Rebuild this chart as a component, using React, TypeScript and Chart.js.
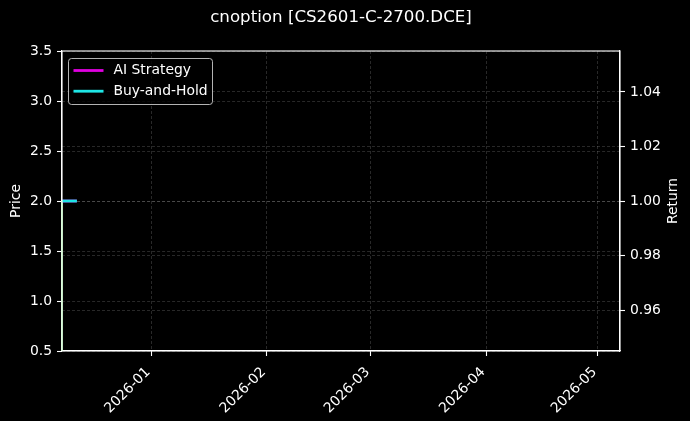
import { useEffect, useRef } from "react";
import { Chart, registerables } from "chart.js";

Chart.register(...registerables);

const TITLE = "cnoption [CS2601-C-2700.DCE]";

// x axis (dates)
const X_MIN = "2025-12-08";
const X_MAX = "2026-05-07";
const X_TICKS = ["2026-01-01", "2026-02-01", "2026-03-01", "2026-04-01", "2026-05-01"];
const X_TICK_LABELS = ["2026-01", "2026-02", "2026-03", "2026-04", "2026-05"];

// left axis: price
const PRICE_MIN = 0.5;
const PRICE_MAX = 3.5;
const PRICE_TICKS = [0.5, 1.0, 1.5, 2.0, 2.5, 3.0, 3.5];
const PRICE_DATES = ["2025-12-08T00:00", "2025-12-08T01:00"];
const PRICE_VALUES = [2.0, 0.0];

// right axis: return
const RETURN_MIN = 0.945;
const RETURN_MAX = 1.055;
const RETURN_TICKS = [0.96, 0.98, 1.0, 1.02, 1.04];
const RETURN_DATES = ["2025-12-08", "2025-12-09", "2025-12-10", "2025-12-11", "2025-12-12"];
const AI_RETURNS = [1.0, 1.0, 1.0, 1.0, 1.0];
const BH_RETURNS = [1.0, 1.0, 1.0, 1.0, 1.0];

const LEGEND_ORDER = ["AI Strategy", "Buy-and-Hold"];

const FONT = "DejaVu Sans";
const GRID = "rgba(255,255,255,0.2)";
const AI_COLOR = "#e000e0";
const BH_COLOR = "#1ee6e6";
const PRICE_COLOR = "#90ee90";

const t = (s: string) => Date.parse(s.length === 10 ? s + "T00:00:00Z" : s + ":00Z");

const framePlugin = {
  id: "frame",
  afterDatasetsDraw(chart: any) {
    const { ctx, chartArea: a } = chart;
    ctx.save();
    ctx.strokeStyle = "#ffffff";
    ctx.lineWidth = 1.1;
    ctx.strokeRect(a.left, a.top, a.right - a.left, a.bottom - a.top);

    // right axis label, reads bottom-to-top like the left one
    ctx.font = `13.9px "${FONT}"`;
    ctx.fillStyle = "#ffffff";
    ctx.textAlign = "center";
    ctx.textBaseline = "middle";
    ctx.translate(673, (a.top + a.bottom) / 2);
    ctx.rotate(-Math.PI / 2);
    ctx.fillText("Return", 0, 0);
    ctx.restore();

    // legend
    const items = LEGEND_ORDER.map((l) => chart.data.datasets.find((d: any) => d.label === l));
    ctx.save();
    const x0 = a.left + 6.5;
    const y0 = a.top + 7.5;
    const w = 144;
    const h = 46;
    ctx.beginPath();
    ctx.roundRect(x0, y0, w, h, 3);
    ctx.fillStyle = "rgba(0,0,0,0.8)";
    ctx.fill();
    ctx.strokeStyle = "rgba(210,210,210,0.85)";
    ctx.lineWidth = 1;
    ctx.stroke();
    ctx.font = `13.9px "${FONT}"`;
    ctx.textAlign = "left";
    ctx.textBaseline = "middle";
    items.forEach((d: any, i: number) => {
      const y = y0 + 12 + i * 20.7;
      ctx.strokeStyle = d.borderColor;
      ctx.lineWidth = 2.8;
      ctx.beginPath();
      ctx.moveTo(x0 + 5, y);
      ctx.lineTo(x0 + 35, y);
      ctx.stroke();
      ctx.fillStyle = "#ffffff";
      ctx.fillText(d.label, x0 + 45, y);
    });
    ctx.restore();
  },
};

export default function App() {
  const canvasRef = useRef<HTMLCanvasElement>(null);

  useEffect(() => {
    document.body.style.margin = "0";
    document.body.style.background = "#000";
    if (!canvasRef.current) return;

    Chart.defaults.font.family = FONT;
    Chart.defaults.color = "#ffffff";

    const gridOpts = { color: GRID, lineWidth: 0.8, tickColor: "#ffffff", tickLength: 5, tickWidth: 1.1 };
    const borderOpts = { color: "#ffffff", width: 1.1, dash: [3, 2] };

    const chart = new Chart(canvasRef.current, {
      type: "line",
      data: {
        datasets: [
          {
            label: "Buy-and-Hold",
            data: RETURN_DATES.map((d, i) => ({ x: t(d), y: BH_RETURNS[i] })),
            yAxisID: "y1",
            borderColor: BH_COLOR,
            borderWidth: 2.8,
            pointRadius: 0,
            order: 0,
          },
          {
            label: "AI Strategy",
            data: RETURN_DATES.map((d, i) => ({ x: t(d), y: AI_RETURNS[i] })),
            yAxisID: "y1",
            borderColor: AI_COLOR,
            borderWidth: 2.8,
            pointRadius: 0,
            order: 1,
          },
          {
            label: "Price",
            data: PRICE_DATES.map((d, i) => ({ x: t(d), y: PRICE_VALUES[i] })),
            yAxisID: "y",
            borderColor: PRICE_COLOR,
            borderWidth: 1.4,
            pointRadius: 0,
            order: 2,
            clip: { left: 2, top: 0, right: 0, bottom: 0 },
          },
        ] as any,
      },
      options: {
        animation: false,
        responsive: false,
        layout: { padding: 0 },
        plugins: {
          legend: { display: false },
          tooltip: { enabled: false },
          title: {
            display: true,
            text: TITLE,
            color: "#ffffff",
            fullSize: false,
            font: { size: 16.67, weight: "normal" },
            padding: { top: 8, bottom: 23 },
          },
        },
        scales: {
          x: {
            type: "linear",
            position: "bottom",
            min: t(X_MIN),
            max: t(X_MAX),
            afterBuildTicks: (s: any) => {
              s.ticks = X_TICKS.map((d) => ({ value: t(d) }));
            },
            afterFit: (s: any) => {
              s.height = 70;
            },
            ticks: {
              color: "#ffffff",
              font: { size: 13.9 },
              minRotation: 45,
              maxRotation: 45,
              padding: 8,
              labelOffset: -3,
              autoSkip: false,
              callback: (_v: any, i: number) => X_TICK_LABELS[i],
            },
            grid: gridOpts,
            border: borderOpts,
          },
          y: {
            position: "left",
            min: PRICE_MIN,
            max: PRICE_MAX,
            afterBuildTicks: (s: any) => {
              s.ticks = PRICE_TICKS.map((v) => ({ value: v }));
            },
            afterFit: (s: any) => {
              s.width = 62;
            },
            ticks: {
              color: "#ffffff",
              font: { size: 13.9 },
              padding: 5,
              callback: (v: any) => Number(v).toFixed(1),
            },
            title: {
              display: true,
              text: "Price",
              color: "#ffffff",
              font: { size: 13.9 },
              padding: { top: 8, bottom: 0 },
            },
            grid: gridOpts,
            border: borderOpts,
          },
          y1: {
            position: "right",
            min: RETURN_MIN,
            max: RETURN_MAX,
            afterBuildTicks: (s: any) => {
              s.ticks = RETURN_TICKS.map((v) => ({ value: v }));
            },
            afterFit: (s: any) => {
              s.width = 70;
            },
            ticks: {
              color: "#ffffff",
              font: { size: 13.9 },
              padding: 5,
              callback: (v: any) => Number(v).toFixed(2),
            },
            grid: gridOpts,
            border: borderOpts,
          },
        },
      },
      plugins: [framePlugin],
    });

    return () => chart.destroy();
  }, []);

  return (
    <div style={{ width: 690, height: 421, background: "#000" }}>
      <canvas ref={canvasRef} width={690} height={421} />
    </div>
  );
}
